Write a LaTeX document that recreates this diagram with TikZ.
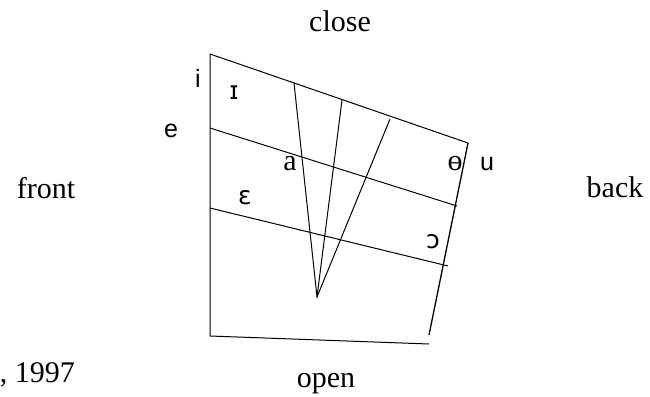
\documentclass[tikz,border=0pt]{standalone}
\usepackage{fontspec}
\setmainfont{Liberation Serif}
\newfontfamily\lsans{Liberation Sans}
\newfontfamily\dsans{DejaVu Sans}
\begin{document}
\begin{tikzpicture}[x=1pt,y=-1pt,
  lbl/.style={inner sep=0pt,font=\fontsize{30}{36}\selectfont},
  ipas/.style={inner sep=0pt,font=\lsans\fontsize{25}{30}\selectfont},
  ipad/.style={inner sep=0pt,font=\dsans\fontsize{25}{30}\selectfont},
  ipaserif/.style={inner sep=0pt,font=\fontsize{30}{36}\selectfont},
  ln/.style={line width=1pt}]
\useasboundingbox (0,0) rectangle (650,396);
% corners
\coordinate (TL) at (210,54);
\coordinate (TR) at (468,143);
\coordinate (BR) at (429,335);
\coordinate (BL) at (210,336);
\coordinate (BE) at (429,344);
\coordinate (ML) at (210,128);
\coordinate (MR) at (457,206);
\coordinate (LL) at (210,208);
\coordinate (LR) at (448,266);
\coordinate (AP) at (317,297);
\coordinate (F1) at (294,83);
\coordinate (F2) at (342,100);
\coordinate (F3) at (390,119);
\draw[ln] (BL) -- (TL) -- (TR);
\draw[line width=1.3pt] (TR) -- (BR);
\draw[ln] (BL) -- (BE);
\draw[ln] (ML) -- (MR);
\draw[ln] (LL) -- (LR);
\draw[ln] (F1) -- (AP) -- (F3);
\draw[ln] (AP) -- (F2);
% labels
\node[lbl,anchor=base] (close) at (340,32) {close};
\node[lbl,anchor=base] (open) at (326,387) {open};
\node[lbl,anchor=base] (front) at (46,198) {front};
\node[lbl,anchor=base] (back) at (615,197) {back};
\node[lbl,anchor=base east] (year) at (75,382) {, 1997};
% vowels
\node[ipas,anchor=base] (vi) at (198,88) {i};
\node[ipad,anchor=base] (vI) at (234,99) {ɪ};
\node[ipas,anchor=base] (ve) at (171,137) {e};
\node[lbl,anchor=base] (va) at (290,170) {a};
\node[ipaserif,anchor=base] (vo) at (455,170) {ɵ};
\node[ipas,anchor=base] (vu) at (487,170) {u};
\node[ipad,anchor=base] (vE) at (245,204) {ɛ};
\node[ipad,anchor=base] (vO) at (433,248) {ɔ};
\end{tikzpicture}
\end{document}
